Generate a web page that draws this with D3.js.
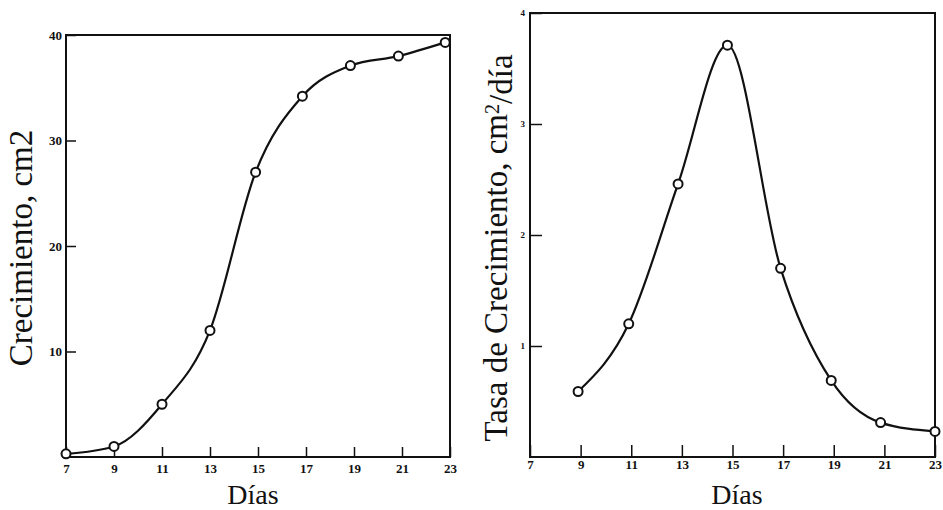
<!DOCTYPE html>
<html>
<head>
<meta charset="utf-8">
<script src="https://cdn.jsdelivr.net/npm/d3@7"></script>
<style>
  body { margin: 0; background: #fff; }
  svg text { font-family: "Liberation Serif", "DejaVu Serif", serif; fill: #111; }
</style>
</head>
<body>
<div id="chart"></div>
<script>
// Values
const xTicks = [7, 9, 11, 13, 15, 17, 19, 21, 23];

// left panel: accumulated growth (cm2)
const growthDays = [7, 9, 11, 13, 14.9, 16.85, 18.85, 20.85, 22.8];
const growthValues = [0.3, 1.0, 5.0, 12.0, 27.0, 34.2, 37.1, 38.0, 39.3];
const growthTicks = [10, 20, 30, 40];

// right panel: growth rate (cm2/día)
const rateDays = [8.9, 10.9, 12.85, 14.8, 16.9, 18.9, 20.85, 23];
const rateValues = [0.59, 1.2, 2.46, 3.71, 1.7, 0.69, 0.31, 0.23];
const rateTicks = [1, 2, 3, 4];

const ink = "#111";

const svg = d3.select("#chart").append("svg")
    .attr("width", 943)
    .attr("height", 510);

function drawPanel(opt) {
    const x = d3.scaleLinear().domain([7, 23]).range([opt.left, opt.right]);
    const y = d3.scaleLinear().domain(opt.yDomain).range([opt.bottom, opt.top]);
    const g = svg.append("g");

    // x axis: inward ticks, labels below
    const xAxis = g.append("g")
        .attr("transform", `translate(0,${opt.bottom})`)
        .call(d3.axisBottom(x).tickValues(xTicks).tickSizeInner(-opt.xTickLen).tickSizeOuter(0).tickPadding(opt.xPad));
    xAxis.select(".domain").remove();
    xAxis.selectAll(".tick line").attr("stroke", ink).attr("stroke-width", 1.5);
    xAxis.selectAll("text")
        .attr("fill", ink)
        .style("font-size", "13px").style("font-weight", "bold");

    // y axis: inward ticks, labels left
    const yAxis = g.append("g")
        .attr("transform", `translate(${opt.left},0)`)
        .call(d3.axisLeft(y).tickValues(opt.yTicks).tickFormat(d3.format("d"))
            .tickSizeInner(-opt.yTickLen).tickSizeOuter(0).tickPadding(opt.yPad));
    yAxis.select(".domain").remove();
    yAxis.selectAll(".tick line").attr("stroke", ink).attr("stroke-width", 1.5);
    yAxis.selectAll("text")
        .attr("fill", ink)
        .style("font-size", opt.yFont).style("font-weight", "bold");

    // frame
    g.append("rect")
        .attr("x", opt.left).attr("y", opt.top)
        .attr("width", opt.right - opt.left)
        .attr("height", opt.bottom - opt.top)
        .attr("fill", "none").attr("stroke", ink).attr("stroke-width", 2);

    // curve through the measured points
    const pts = opt.days.map((d, i) => [d, opt.values[i]]);
    const line = d3.line()
        .x(d => x(d[0]))
        .y(d => y(d[1]))
        .curve(d3.curveMonotoneX);
    g.append("path")
        .datum(pts)
        .attr("d", line)
        .attr("fill", "none")
        .attr("stroke", ink)
        .attr("stroke-width", 2.2);

    g.selectAll("circle")
        .data(pts)
        .enter()
        .append("circle")
        .attr("cx", d => x(d[0]))
        .attr("cy", d => y(d[1]))
        .attr("r", 4.5)
        .attr("fill", "#fff")
        .attr("stroke", ink)
        .attr("stroke-width", 2);

    // axis titles
    g.append("text")
        .attr("x", opt.xTitleX)
        .attr("y", 504)
        .attr("text-anchor", "middle")
        .style("font-size", "28px")
        .text("Días");

    const yt = g.append("text")
        .attr("transform", `translate(${opt.yTitleX},${opt.yTitleY}) rotate(-90)`)
        .attr("text-anchor", "middle")
        .style("font-size", "33px");
    opt.yTitle.forEach(part => {
        const t = yt.append("tspan").text(part.text);
        if (part.sup) t.attr("dy", "-0.4em").style("font-size", "20px");
        if (part.after) t.attr("dy", "0.4em");
    });
}

drawPanel({
    left: 66, right: 450, top: 35, bottom: 457,
    yDomain: [0, 40], yTicks: growthTicks,
    days: growthDays, values: growthValues,
    xTickLen: 10, xPad: 7, yTickLen: 10, yPad: 4, yFont: "13px",
    xTitleX: 253,
    yTitleX: 32, yTitleY: 248,
    yTitle: [{text: "Crecimiento, cm2"}]
});

drawPanel({
    left: 530, right: 935, top: 13, bottom: 457,
    yDomain: [0, 4], yTicks: rateTicks,
    days: rateDays, values: rateValues,
    xTickLen: 12, xPad: 3, yTickLen: 12, yPad: 5, yFont: "9px",
    xTitleX: 737,
    yTitleX: 507, yTitleY: 248,
    yTitle: [{text: "Tasa de Crecimiento, cm"}, {text: "2", sup: true}, {text: "/día", after: true}]
});
</script>
</body>
</html>
